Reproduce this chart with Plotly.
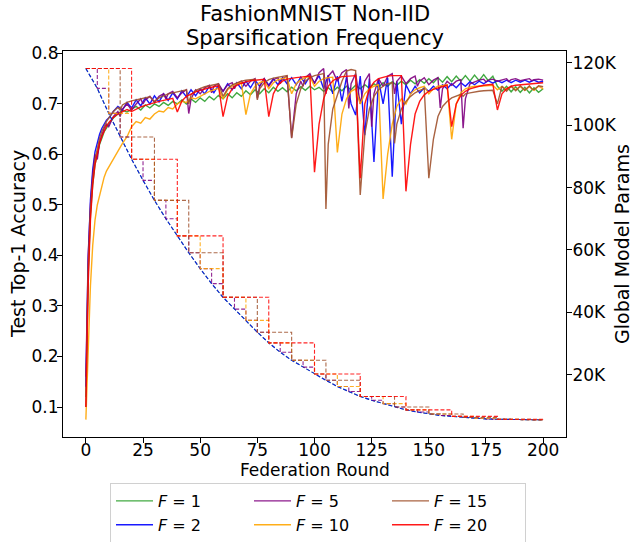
import plotly.graph_objects as go

# ---------------- data ----------------
freqs = [1, 2, 5, 10, 15, 20]
legend_labels = ["<i>F</i> = 1", "<i>F</i> = 2", "<i>F</i> = 5",
                 "<i>F</i> = 10", "<i>F</i> = 15", "<i>F</i> = 20"]
colors = ["#2ca02c", "#0000ff", "#800080", "#ffa500", "#a0522d", "#ff0000"]
legend_rank = [1, 4, 2, 5, 3, 6]

title_lines = ["FashionMNIST Non-IID", "Sparsification Frequency"]
x_title = "Federation Round"
y_title = "Test Top-1 Accuracy"
y2_title = "Global Model Params"

# (round, test top-1 accuracy)
acc_f1 = [(0,0.12),(1,0.36),(2,0.48),(3,0.54),(4,0.58),(5,0.60),(6,0.62),(7,0.632),(8,0.645),(9,0.652),
          (10,0.66),(12,0.672),(14,0.68),(16,0.688),(18,0.684),(20,0.69),(22,0.695),(24,0.688),(26,0.698),(28,0.692),
          (30,0.70),(32,0.695),(34,0.703),(36,0.697),(38,0.705),(40,0.70),(42,0.708),(44,0.70),(46,0.71),(48,0.703),
          (50,0.712),(52,0.705),(54,0.715),(56,0.708),(58,0.717),(60,0.71),(62,0.72),(64,0.712),(66,0.722),(68,0.715),
          (70,0.726),(72,0.718),(74,0.728),(76,0.72),(78,0.73),(80,0.722),(82,0.733),(84,0.725),(86,0.732),(88,0.724),
          (90,0.733),(92,0.726),(94,0.734),(96,0.727),(98,0.735),(100,0.728),(102,0.733),(104,0.725),(106,0.732),(108,0.724),
          (110,0.733),(112,0.726),(114,0.735),(116,0.728),(118,0.737),(120,0.73),(122,0.738),(124,0.731),(126,0.74),(128,0.733),
          (130,0.742),(132,0.735),(134,0.744),(136,0.737),(138,0.745),(140,0.738),(142,0.747),(144,0.74),(146,0.748),(148,0.741),
          (150,0.75),(152,0.742),(154,0.752),(156,0.743),(158,0.754),(160,0.744),(162,0.755),(164,0.745),(166,0.756),(168,0.745),
          (170,0.757),(172,0.746),(174,0.758),(176,0.746),(178,0.755),(180,0.735),(182,0.725),(184,0.735),(186,0.724),(188,0.734),
          (190,0.723),(192,0.733),(194,0.722),(196,0.732),(198,0.723),(200,0.73)]

acc_f2 = [(0,0.14),(1,0.39),(2,0.51),(3,0.57),(4,0.605),(5,0.625),(6,0.64),(7,0.652),(8,0.66),(9,0.668),
          (10,0.672),(12,0.685),(14,0.695),(16,0.688),(18,0.703),(20,0.692),(22,0.708),(24,0.696),(26,0.712),(28,0.70),
          (30,0.716),(32,0.704),(34,0.72),(36,0.707),(38,0.722),(40,0.71),(42,0.726),(44,0.714),(46,0.728),(48,0.716),
          (50,0.73),(52,0.72),(54,0.735),(56,0.722),(58,0.737),(60,0.725),(62,0.74),(64,0.728),(66,0.742),(68,0.73),
          (70,0.745),(72,0.732),(74,0.747),(76,0.735),(78,0.75),(80,0.737),(82,0.75),(84,0.738),(86,0.752),(88,0.74),
          (90,0.752),(92,0.738),(94,0.753),(96,0.74),(98,0.755),(100,0.742),(102,0.756),(104,0.73),(106,0.757),(108,0.72),
          (110,0.755),(112,0.705),(114,0.753),(116,0.70),(118,0.678),(120,0.755),(122,0.638),(124,0.75),(126,0.585),(128,0.748),
          (130,0.70),(132,0.752),(134,0.556),(136,0.745),(138,0.66),(140,0.738),(142,0.72),(144,0.735),(146,0.722),(148,0.732),
          (150,0.725),(152,0.735),(154,0.727),(156,0.738),(158,0.73),(160,0.74),(162,0.732),(164,0.742),(166,0.735),(168,0.744),
          (170,0.738),(172,0.745),(174,0.74),(176,0.746),(178,0.741),(180,0.746),(182,0.742),(184,0.747),(186,0.742),(188,0.747),
          (190,0.743),(192,0.747),(194,0.743),(196,0.747),(198,0.743),(200,0.745)]

acc_f5 = [(0,0.16),(1,0.40),(2,0.50),(3,0.56),(4,0.60),(5,0.59),(6,0.625),(7,0.64),(8,0.652),(9,0.66),
          (10,0.655),(12,0.675),(14,0.685),(15,0.675),(16,0.69),(18,0.70),(20,0.688),(22,0.70),(24,0.71),(25,0.70),
          (26,0.708),(28,0.715),(30,0.703),(32,0.715),(34,0.72),(35,0.71),(36,0.72),(38,0.725),(40,0.712),(42,0.722),
          (44,0.728),(45,0.681),(46,0.71),(48,0.728),(50,0.72),(52,0.732),(54,0.737),(55,0.722),(56,0.735),(58,0.74),
          (60,0.725),(62,0.738),(64,0.742),(65,0.73),(66,0.74),(68,0.745),(70,0.735),(72,0.745),(74,0.75),(75,0.711),
          (76,0.735),(78,0.75),(80,0.735),(82,0.748),(84,0.752),(85,0.74),(86,0.75),(88,0.755),(90,0.633),(92,0.72),
          (94,0.745),(95,0.735),(96,0.752),(98,0.76),(100,0.74),(102,0.762),(104,0.77),(105,0.72),(106,0.755),(108,0.765),
          (110,0.745),(112,0.762),(114,0.768),(115,0.691),(116,0.74),(118,0.76),(120,0.70),(122,0.745),(124,0.76),(125,0.655),
          (126,0.72),(128,0.75),(130,0.735),(132,0.755),(134,0.76),(135,0.72),(136,0.745),(138,0.755),(140,0.74),(142,0.75),
          (144,0.755),(145,0.735),(146,0.745),(148,0.752),(150,0.738),(152,0.747),(154,0.752),(155,0.692),(156,0.73),(158,0.745),
          (160,0.737),(162,0.745),(164,0.748),(165,0.652),(166,0.71),(168,0.74),(170,0.744),(172,0.747),(174,0.749),(175,0.744),
          (176,0.747),(178,0.749),(180,0.745),(182,0.748),(184,0.75),(185,0.745),(186,0.748),(188,0.75),(190,0.746),(192,0.748),
          (194,0.75),(195,0.746),(196,0.748),(198,0.749),(200,0.747)]

acc_f10 = [(0,0.075),(1,0.22),(2,0.34),(3,0.42),(4,0.47),(5,0.50),(6,0.52),(7,0.54),(8,0.555),(9,0.567),
           (10,0.575),(12,0.592),(14,0.608),(16,0.622),(18,0.635),(20,0.655),(22,0.665),(24,0.662),(26,0.673),(28,0.67),
           (30,0.68),(32,0.686),(34,0.684),(36,0.693),(38,0.69),(40,0.70),(42,0.705),(44,0.703),(46,0.712),(48,0.71),
           (50,0.715),(52,0.72),(54,0.725),(56,0.728),(58,0.731),(60,0.71),(62,0.728),(64,0.735),(66,0.74),(68,0.742),
           (70,0.679),(72,0.72),(74,0.735),(76,0.742),(78,0.745),(80,0.73),(82,0.742),(84,0.748),(86,0.75),(88,0.752),
           (90,0.72),(92,0.74),(94,0.748),(96,0.752),(98,0.754),(100,0.735),(102,0.745),(104,0.75),(106,0.752),(108,0.753),
           (110,0.604),(112,0.68),(114,0.71),(116,0.725),(118,0.73),(120,0.70),(122,0.72),(124,0.73),(126,0.735),(128,0.738),
           (130,0.512),(132,0.60),(134,0.66),(136,0.695),(138,0.71),(140,0.70),(142,0.72),(144,0.728),(146,0.732),(148,0.735),
           (150,0.72),(152,0.73),(154,0.735),(156,0.737),(158,0.738),(160,0.63),(162,0.70),(164,0.722),(166,0.73),(168,0.733),
           (170,0.735),(172,0.735),(174,0.736),(176,0.736),(178,0.737),(180,0.728),(182,0.735),(184,0.728),(186,0.735),(188,0.728),
           (190,0.734),(192,0.727),(194,0.734),(196,0.727),(198,0.735),(200,0.73)]

acc_f15 = [(0,0.10),(1,0.37),(2,0.49),(3,0.55),(4,0.59),(5,0.615),(6,0.632),(7,0.646),(8,0.656),(9,0.665),
           (10,0.672),(12,0.685),(14,0.693),(15,0.688),(16,0.698),(18,0.703),(20,0.706),(22,0.708),(24,0.71),(26,0.712),
           (28,0.714),(30,0.705),(32,0.712),(34,0.716),(36,0.72),(38,0.722),(40,0.724),(42,0.726),(44,0.728),(45,0.70),
           (46,0.718),(48,0.727),(50,0.731),(52,0.734),(54,0.736),(56,0.738),(58,0.74),(60,0.715),(62,0.73),(64,0.738),
           (66,0.742),(68,0.745),(70,0.747),(72,0.748),(74,0.749),(75,0.708),(76,0.73),(78,0.742),(80,0.748),(82,0.751),
           (84,0.753),(86,0.755),(88,0.756),(90,0.632),(92,0.70),(94,0.73),(96,0.745),(98,0.752),(100,0.756),(102,0.758),
           (104,0.76),(105,0.492),(106,0.62),(108,0.69),(110,0.72),(112,0.745),(114,0.765),(116,0.768),(118,0.766),(120,0.52),
           (122,0.64),(124,0.69),(126,0.715),(128,0.728),(130,0.735),(132,0.74),(134,0.742),(135,0.622),(136,0.66),(138,0.69),
           (140,0.705),(142,0.715),(144,0.722),(146,0.727),(148,0.73),(150,0.553),(152,0.63),(154,0.675),(156,0.695),(158,0.705),
           (160,0.712),(162,0.716),(164,0.719),(165,0.715),(166,0.72),(168,0.722),(170,0.724),(172,0.725),(174,0.726),(176,0.727),
           (178,0.727),(180,0.70),(182,0.735),(184,0.725),(186,0.735),(188,0.726),(190,0.736),(192,0.727),(194,0.736),(195,0.73),
           (196,0.728),(198,0.736),(200,0.734)]

acc_f20 = [(0,0.10),(1,0.34),(2,0.47),(3,0.54),(4,0.58),(5,0.605),(6,0.622),(7,0.636),(8,0.647),(9,0.656),
           (10,0.663),(12,0.673),(14,0.68),(16,0.685),(18,0.689),(20,0.685),(22,0.69),(24,0.694),(26,0.697),(28,0.70),
           (30,0.702),(32,0.705),(34,0.707),(36,0.709),(38,0.711),(40,0.684),(42,0.706),(44,0.715),(46,0.72),(48,0.724),
           (50,0.727),(52,0.73),(54,0.732),(56,0.734),(58,0.736),(60,0.675),(62,0.715),(64,0.73),(66,0.737),(68,0.741),
           (70,0.744),(72,0.746),(74,0.747),(76,0.748),(78,0.749),(80,0.675),(82,0.72),(84,0.737),(86,0.745),(88,0.749),
           (90,0.751),(92,0.752),(94,0.753),(96,0.754),(98,0.755),(100,0.565),(102,0.66),(104,0.71),(106,0.735),(108,0.746),
           (110,0.751),(112,0.754),(114,0.755),(116,0.756),(118,0.756),(120,0.553),(122,0.70),(124,0.73),(126,0.743),(128,0.75),
           (130,0.753),(132,0.755),(134,0.756),(136,0.756),(138,0.756),(140,0.527),(142,0.62),(144,0.68),(146,0.705),(148,0.718),
           (150,0.725),(152,0.729),(154,0.732),(156,0.735),(158,0.737),(160,0.655),(162,0.70),(164,0.717),(166,0.725),(168,0.73),
           (170,0.733),(172,0.735),(174,0.737),(176,0.738),(178,0.739),(180,0.688),(182,0.72),(184,0.73),(186,0.735),(188,0.737),
           (190,0.738),(192,0.739),(194,0.74),(196,0.741),(198,0.741),(200,0.742)]

acc_series = [acc_f1, acc_f2, acc_f5, acc_f10, acc_f15, acc_f20]

# scheduled global model size (thousands of params) every 5 rounds
params_rounds = list(range(0, 201, 5))
params_k = [118.2, 111.8, 103.8, 96.2, 89.1, 82.3, 75.9, 70.0, 64.5, 59.1,
            54.0, 49.2, 44.8, 41.0, 37.4, 33.6, 30.2, 27.2, 24.6, 22.4,
            20.2, 18.2, 16.2, 14.6, 13.0, 11.8, 10.7, 9.6, 8.7, 8.0,
            7.4, 6.9, 6.6, 6.3, 6.0, 5.8, 5.7, 5.6, 5.55, 5.5, 5.5]

acc_ticks = [0.1, 0.2, 0.3, 0.4, 0.5, 0.6, 0.7, 0.8]
param_ticks = [20, 40, 60, 80, 100, 120]
param_tick_labels = ["20K", "40K", "60K", "80K", "100K", "120K"]
round_ticks = [0, 25, 50, 75, 100, 125, 150, 175, 200]


def params_for(freq):
    """Model size held constant between sparsification rounds (every `freq` rounds)."""
    if freq <= 2:
        return params_rounds, params_k, "linear"
    step = freq // 5
    xs = params_rounds[::step]
    ys = params_k[::step]
    if xs[-1] != 200:
        xs = xs + [200]
        ys = ys + [ys[-1]]
    return xs, ys, "hv"


fig = go.Figure()

for i, f in enumerate(freqs):
    pts = acc_series[i]
    fig.add_trace(go.Scatter(
        x=[p[0] for p in pts], y=[p[1] for p in pts],
        mode="lines", name=legend_labels[i], legendrank=legend_rank[i],
        line=dict(color=colors[i], width=1.4), opacity=0.9,
        yaxis="y", showlegend=True))

for i, f in enumerate(freqs):
    xs, ys, shape = params_for(f)
    fig.add_trace(go.Scatter(
        x=xs, y=ys, mode="lines", line_shape=shape,
        line=dict(color=colors[i], width=1.1, dash="4px,2px"), opacity=0.85,
        yaxis="y2", showlegend=False, hoverinfo="skip"))

axis_common = dict(showline=True, linecolor="black", linewidth=1, ticks="outside",
                   ticklen=5, tickwidth=1, tickcolor="black", showgrid=False,
                   zeroline=False)

PLOT_LEFT, PLOT_RIGHT = 63, 566
PLOT_TOP, PLOT_BOTTOM = 51, 437
PLOT_W = PLOT_RIGHT - PLOT_LEFT
PLOT_H = PLOT_BOTTOM - PLOT_TOP


def paper_y(px):
    return (PLOT_BOTTOM - px) / PLOT_H


def paper_x(px):
    return (px - PLOT_LEFT) / PLOT_W


fig.update_layout(
    width=634, height=542,
    margin=dict(l=PLOT_LEFT, r=634 - PLOT_RIGHT, t=PLOT_TOP, b=542 - PLOT_BOTTOM,
                autoexpand=False),
    plot_bgcolor="white", paper_bgcolor="white",
    font=dict(family="DejaVu Sans", size=17, color="black"),
    xaxis=dict(range=[-10, 210], tickvals=round_ticks, mirror=True,
               ticklabelstandoff=-7, **axis_common),
    yaxis=dict(range=[0.0406, 0.8048], tickvals=acc_ticks,
               ticktext=[f"{t:.1f}" for t in acc_ticks], ticklabelstandoff=-5,
               **axis_common),
    yaxis2=dict(range=[0, 123.8], overlaying="y", side="right",
                tickvals=param_ticks, ticktext=param_tick_labels, ticklabelstandoff=-3,
                **axis_common),
    legend=dict(orientation="h", x=paper_x(318), xanchor="center", y=paper_y(483), yanchor="top",
                bordercolor="#d0d0d0", borderwidth=1, font=dict(size=16),
                itemwidth=37, entrywidth=86, entrywidthmode="pixels",
                traceorder="normal", bgcolor="white"),
    showlegend=True,
    annotations=[
        dict(text=title_lines[0], xref="paper", yref="paper", x=0.5, y=paper_y(14),
             xanchor="center", yanchor="middle", showarrow=False, font=dict(size=21)),
        dict(text=title_lines[1], xref="paper", yref="paper", x=0.5, y=paper_y(38),
             xanchor="center", yanchor="middle", showarrow=False, font=dict(size=21)),
        dict(text=x_title, xref="paper", yref="paper", x=0.5, y=paper_y(470),
             xanchor="center", yanchor="middle", showarrow=False, font=dict(size=17)),
        dict(text=y_title, xref="paper", yref="paper", x=paper_x(18), y=0.5,
             xanchor="center", yanchor="middle", showarrow=False, textangle=-90,
             font=dict(size=19)),
        dict(text=y2_title, xref="paper", yref="paper", x=paper_x(622), y=0.5,
             xanchor="center", yanchor="middle", showarrow=False, textangle=-90,
             font=dict(size=19)),
    ],
)

fig.write_html("out.html", config={"displayModeBar": False},
               post_script="document.body.style.margin='0px';")
